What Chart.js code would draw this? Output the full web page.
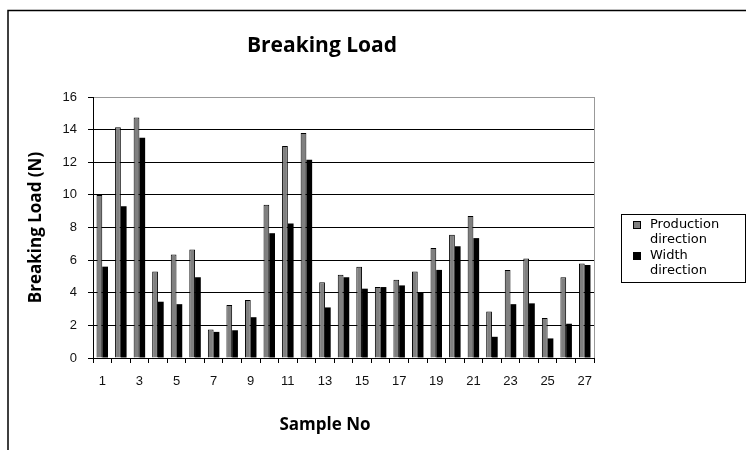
<!DOCTYPE html>
<html>
<head>
<meta charset="utf-8">
<script src="https://cdn.jsdelivr.net/npm/chart.js@4.4.0/dist/chart.umd.min.js"></script>
<style>
  html, body { margin: 0; padding: 0; background: #fff; }
  #wrap { width: 746px; height: 450px; }
</style>
</head>
<body>
<div id="wrap"><canvas id="grafico" width="746" height="450"></canvas></div>
<script>
// --- Datos ---
const muestras = ["1","2","3","4","5","6","7","8","9","10","11","12","13","14","15","16","17","18","19","20","21","22","23","24","25","26","27"];
const produccion = [10.0, 14.15, 14.75, 5.3, 6.35, 6.65, 1.75, 3.25, 3.55, 9.4, 13.0, 13.8, 4.65, 5.1, 5.6, 4.35, 4.8, 5.3, 6.75, 7.55, 8.7, 2.85, 5.4, 6.1, 2.45, 4.95, 5.8];
const ancho = [5.6, 9.3, 13.5, 3.45, 3.3, 4.95, 1.6, 1.7, 2.5, 7.65, 8.25, 12.15, 3.1, 4.95, 4.25, 4.35, 4.45, 4.0, 5.4, 6.85, 7.35, 1.3, 3.3, 3.35, 1.2, 2.1, 5.7];
const ticksY = [0, 2, 4, 6, 8, 10, 12, 14, 16];
const leyenda = [["Production", "direction"], ["Width", "direction"]];

const titulo = "Breaking Load";
const tituloX = "Sample No";
const tituloY = "Breaking Load (N)";

// ===========================
// PLUGIN: marco, textos y leyenda
// ===========================
const extras = {
  id: "extras",
  beforeDraw(chart) {
    const ctx = chart.ctx;
    ctx.save();
    ctx.fillStyle = "#fff";
    ctx.fillRect(0, 0, chart.width, chart.height);
    ctx.strokeStyle = "#000";
    ctx.lineWidth = 1.5;
    ctx.beginPath();
    ctx.moveTo(8, chart.height);
    ctx.lineTo(8, 10.5);
    ctx.lineTo(chart.width, 10.5);
    ctx.stroke();
    ctx.restore();
  },
  afterDraw(chart) {
    const ctx = chart.ctx;
    const area = chart.chartArea;
    ctx.save();

    // borde derecho gris del área
    ctx.strokeStyle = "#999";
    ctx.lineWidth = 1;
    ctx.beginPath();
    ctx.moveTo(Math.round(area.right) + 0.5, area.top);
    ctx.lineTo(Math.round(area.right) + 0.5, area.bottom);
    ctx.stroke();

    // títulos
    ctx.fillStyle = "#000";
    ctx.textAlign = "center";
    ctx.textBaseline = "middle";
    ctx.font = "bold 21px 'Open Sans'";
    ctx.fillText(titulo, 322, 46);
    ctx.font = "bold 17px 'Open Sans'";
    ctx.fillText(tituloX, 325, 425);
    ctx.save();
    ctx.translate(36, (area.top + area.bottom) / 2);
    ctx.rotate(-Math.PI / 2);
    ctx.fillText(tituloY, 0, 0);
    ctx.restore();

    // leyenda
    ctx.strokeStyle = "#000";
    ctx.lineWidth = 1;
    ctx.strokeRect(621.5, 214.5, 124, 68);
    ctx.font = "13px 'DejaVu Sans'";
    ctx.textAlign = "left";
    const ds = chart.data.datasets;
    ds.forEach((d, i) => {
      const y0 = 221 + i * 31;
      ctx.fillStyle = d.backgroundColor;
      ctx.fillRect(633, y0, 8, 8);
      ctx.strokeStyle = "#000";
      ctx.strokeRect(633.5, y0 + 0.5, 7, 7);
      ctx.fillStyle = "#000";
      leyenda[i].forEach((linea, j) => {
        ctx.fillText(linea, 650, y0 + 4 + j * 15);
      });
    });
    ctx.restore();
  }
};

const ctx = document.getElementById("grafico").getContext("2d");

new Chart(ctx, {
  type: "bar",
  data: {
    labels: muestras,
    datasets: [
      {
        label: leyenda[0].join(" "),
        data: produccion,
        backgroundColor: "#808080",
        borderColor: "#000",
        borderWidth: 1
      },
      {
        label: leyenda[1].join(" "),
        data: ancho,
        backgroundColor: "#000",
        borderColor: "#000",
        borderWidth: 0
      }
    ]
  },
  options: {
    responsive: false,
    animation: false,
    categoryPercentage: 0.62,
    barPercentage: 1,
    layout: { padding: { top: 97, right: 152, bottom: 52, left: 0 } },
    plugins: {
      legend: { display: false },
      title: { display: false },
      tooltip: { enabled: false }
    },
    scales: {
      x: {
        afterFit: s => { s.height = 40; },
        grid: {
          offset: true,
          drawOnChartArea: false,
          drawTicks: true,
          tickLength: 5,
          color: "#000"
        },
        border: { color: "#000", width: 1 },
        ticks: {
          autoSkip: false,
          maxRotation: 0,
          padding: 11,
          color: "#111",
          font: { family: "'Liberation Sans', Arial", size: 13 },
          callback: (v, i) => (i % 2 === 0 ? muestras[i] : "")
        }
      },
      y: {
        min: 0,
        max: 16,
        afterFit: s => { s.width = 93; },
        afterBuildTicks: s => { s.ticks = ticksY.map(v => ({ value: v })); },
        grid: {
          color: c => (c.tick && c.tick.value === 16 ? "#999" : "#000"),
          tickColor: "#000",
          tickLength: 5
        },
        border: { color: "#000", width: 1 },
        ticks: {
          padding: 11,
          color: "#111",
          font: { family: "'Liberation Sans', Arial", size: 13 }
        }
      }
    }
  },
  plugins: [extras]
});
</script>
</body>
</html>
